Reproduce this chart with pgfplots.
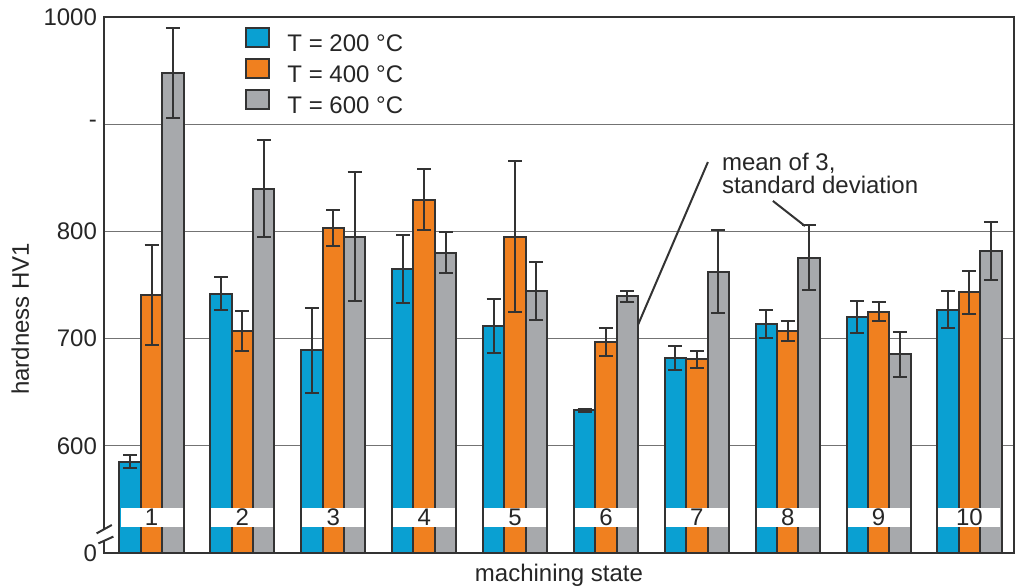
\documentclass[border=0pt]{standalone}
\usepackage{fontspec}
\setmainfont{Liberation Sans}
\usepackage{pgfplots}
\usepackage{pgfplotstable}
\pgfplotsset{compat=1.18}
\definecolor{cblue}{HTML}{0AA0D2}
\definecolor{corange}{HTML}{F0801F}
\definecolor{cgray}{HTML}{A7A9AC}
\definecolor{edge}{HTML}{333333}
\pgfplotstableread{
x b eb o eo g eg
1 585 6 740.5 46.5 948 42
2 742 15 707 19 840 45.5
3 689 40 803 17 795 60
4 765 32 829.5 28.5 780 19
5 712 25 795 70.5 744 27
6 633 1.5 696.5 13 739.5 5
7 682 11 680.5 8 762.5 39
8 714 13 707 9 775.5 30
9 720.5 15 725 9 685.5 21
10 727 17 743 20 782 27
}\data
\newcommand{\fs}{\fontsize{12}{13.5}\selectfont}
\begin{document}
\begin{tikzpicture}
\path[use as bounding box] (-52pt,-17pt) rectangle (457pt,276.5pt);
\begin{axis}[
  name=ax, at={(0,0)}, anchor=south west,
  scale only axis, width=455pt, height=268pt,
  xmin=0.477, xmax=10.49, ymin=500, ymax=1000,
  xtick=\empty,
  ytick={500,600,700,800,900,1000},
  yticklabels={0,600,700,800,-,1000},
  major tick length=0pt,
  ymajorgrids, grid style={draw=black!55, line width=0.5pt},
  axis line style={draw=edge, line width=1pt},
  ybar, bar width=0.235,
  tick label style={font=\fs, text=black!85},
  ylabel={hardness HV1}, xlabel={machining state},
  label style={font=\fs, text=black!85},
  ylabel style={at={(axis description cs:-0.092,0.437)}, anchor=center},
  xlabel style={at={(axis description cs:0.5,0)}, anchor=base, yshift=-14.5pt},
  legend style={at={(axis description cs:0.155,0.982)}, anchor=north west,
    draw=none, fill=none, inner sep=0pt, row sep=1pt, font=\fs,
    nodes={inner sep=0pt, text height=8pt, text depth=2pt, text=black!85},
    /tikz/every odd column/.append style={column sep=8.5pt}},
  legend image code/.code={\draw[#1,line width=1pt] (0pt,-0.6pt) rectangle (11.5pt,8.9pt);},
  error bars/error bar style={line width=1pt, draw=edge},
  error bars/error mark options={draw=edge, line width=1pt, mark size=3.5pt, rotate=90},
]
\addplot[fill=cblue, draw=edge, line width=1pt, bar shift=-0.235,
  error bars/.cd, y dir=both, y explicit] table[x=x, y=b, y error=eb] {\data};
\addplot[fill=corange, draw=edge, line width=1pt, bar shift=0,
  error bars/.cd, y dir=both, y explicit] table[x=x, y=o, y error=eo] {\data};
\addplot[fill=cgray, draw=edge, line width=1pt, bar shift=0.235,
  error bars/.cd, y dir=both, y explicit] table[x=x, y=g, y error=eg] {\data};
\legend{T = 200 °C, T = 400 °C, T = 600 °C}
\pgfplotsinvokeforeach{1,...,10}{
  \node[fill=white, minimum width=31pt, minimum height=9.5pt, inner sep=0pt, font=\fs, text=black!85] at (axis cs:#1,533) {#1};
}
\node[anchor=west, align=left, font=\fontsize{12}{11.7}\selectfont, text=black!85] at (axis cs:7.2,854) {mean of 3,\\standard deviation};
\draw[edge, line width=1pt] (axis cs:7.122,864.7) -- (axis cs:6.352,712.7);
\draw[edge, line width=1pt] (axis cs:7.837,828.4) -- (axis cs:8.19,805);
\end{axis}
\fill[white] ([shift={(-1.2pt,6.1pt)}]ax.south west) rectangle ([shift={(1.2pt,11.8pt)}]ax.south west);
\draw[edge, line width=1pt] ([shift={(-2.8pt,4.8pt)}]ax.south west) -- ([shift={(4.7pt,8.2pt)}]ax.south west);
\draw[edge, line width=1pt] ([shift={(-3.7pt,9.8pt)}]ax.south west) -- ([shift={(3.9pt,14pt)}]ax.south west);
\end{tikzpicture}
\end{document}
